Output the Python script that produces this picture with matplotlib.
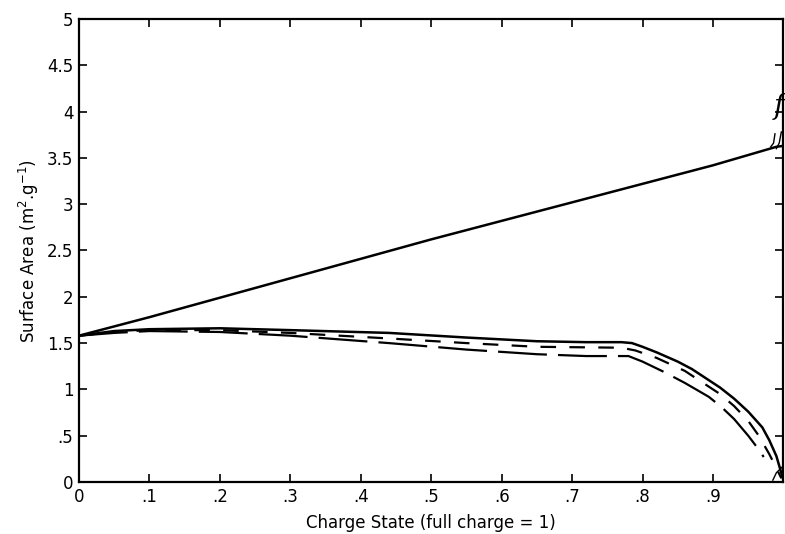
import matplotlib.pyplot as plt

# upper line
x_up = [0, 0.1, 0.2, 0.3, 0.4, 0.5, 0.6, 0.7, 0.8, 0.9, 0.99, 1.0]
y_up = [1.58, 1.78, 1.99, 2.2, 2.41, 2.62, 2.82, 3.02, 3.22, 3.42, 3.62, 3.63]

# lower curves
x_solid = [0, 0.05, 0.1, 0.2, 0.3, 0.44, 0.55, 0.65, 0.72, 0.77, 0.785, 0.80, 0.82, 0.85, 0.87,
           0.89, 0.91, 0.93, 0.95, 0.97, 0.98, 0.99, 1.0]
y_solid = [1.58, 1.63, 1.65, 1.66, 1.64, 1.61, 1.56, 1.52, 1.51, 1.51, 1.50, 1.46, 1.40, 1.30, 1.22,
           1.12, 1.02, 0.90, 0.76, 0.59, 0.45, 0.28, 0.02]

x_mid = [0, 0.05, 0.1, 0.2, 0.3, 0.44, 0.55, 0.65, 0.77, 0.79, 0.82, 0.86, 0.884, 0.91, 0.93,
         0.95, 0.965, 0.98, 0.99, 0.997]
y_mid = [1.58, 1.62, 1.64, 1.64, 1.61, 1.55, 1.50, 1.46, 1.45, 1.42, 1.34, 1.20, 1.08, 0.95, 0.82,
         0.66, 0.50, 0.30, 0.15, 0.04]

x_low = [0, 0.05, 0.1, 0.2, 0.3, 0.44, 0.55, 0.65, 0.72, 0.78, 0.80, 0.83, 0.86, 0.894, 0.912,
         0.93, 0.95, 0.965, 0.972]
y_low = [1.58, 1.61, 1.63, 1.62, 1.58, 1.50, 1.43, 1.38, 1.36, 1.36, 1.30, 1.19, 1.07, 0.92, 0.81,
         0.68, 0.50, 0.35, 0.27]

xticks = [0, 0.1, 0.2, 0.3, 0.4, 0.5, 0.6, 0.7, 0.8, 0.9]
xlabels = ['0', '.1', '.2', '.3', '.4', '.5', '.6', '.7', '.8', '.9']
yticks = [0, 0.5, 1, 1.5, 2, 2.5, 3, 3.5, 4, 4.5, 5]
ylabels = ['0', '.5', '1', '1.5', '2', '2.5', '3', '3.5', '4', '4.5', '5']

fig = plt.figure(figsize=(7.85, 5.34), dpi=100)
ax = fig.add_axes([0.1006, 0.0974, 0.8974, 0.867])

ax.plot(x_up, y_up, color='black', lw=1.8)
ax.plot(x_solid, y_solid, color='black', lw=1.8)
ax.plot(x_mid, y_mid, color='black', lw=1.6, dashes=(7, 6))
ax.plot(x_low, y_low, color='black', lw=1.6, dashes=(22, 5))

# hand-drawn marks near the right edge
ax.plot([0.982, 0.986, 0.988], [3.62, 3.66, 3.76], color='black', lw=1.0)
ax.plot([0.99, 0.994, 0.997], [3.6, 3.66, 3.78], color='black', lw=1.0)
ax.text(0.993, 4.05, 'f', fontsize=20, style='italic', family='DejaVu Serif',
        ha='center', va='center')
ax.plot([0.985, 0.99, 0.998], [0.02, 0.1, 0.16], color='black', lw=1.0)

ax.set_xlim(0, 1)
ax.set_ylim(0, 5)
ax.set_xticks(xticks)
ax.set_xticklabels(xlabels)
ax.set_yticks(yticks)
ax.set_yticklabels(ylabels)
ax.tick_params(direction='in', length=6, width=1.2, top=True, right=True,
               labelsize=12, pad=4)
for s in ax.spines.values():
    s.set_linewidth(1.6)

ax.set_xlabel('Charge State (full charge = 1)', fontsize=12, labelpad=6)
ax.set_ylabel('Surface Area (m$^2$.g$^{-1}$)', fontsize=12, labelpad=4)

fig.savefig('out.png', dpi=100)
